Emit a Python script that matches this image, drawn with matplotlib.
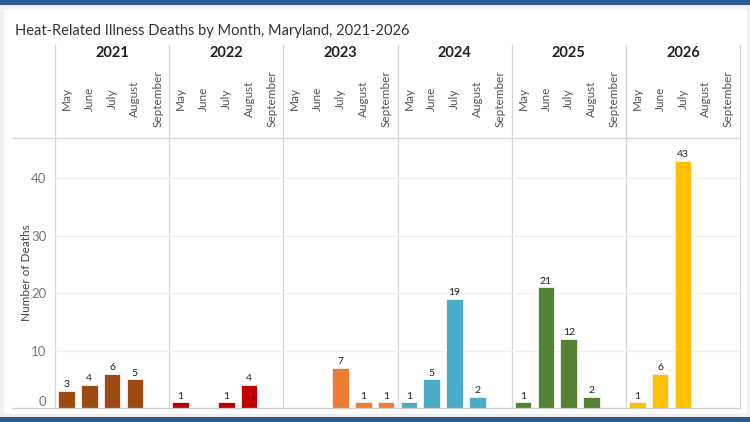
import matplotlib
matplotlib.use("Agg")
import matplotlib.pyplot as plt
from matplotlib.patches import Rectangle
from matplotlib.lines import Line2D

plt.rcParams['font.family'] = ['Lato', 'DejaVu Sans']

years = ['2021', '2022', '2023', '2024', '2025', '2026']
months = ['May', 'June', 'July', 'August', 'September']
colors = ['#9C4A10', '#C00000', '#ED7D31', '#4BACC6', '#548235', '#FFC000']

# deaths per month (None = no bar)
deaths_2021 = [3, 4, 6, 5, None]
deaths_2022 = [1, None, 1, 4, None]
deaths_2023 = [None, None, 7, 1, 1]
deaths_2024 = [1, 5, 19, 2, None]
deaths_2025 = [1, 21, 12, 2, None]
deaths_2026 = [1, 6, 43, None, None]
all_deaths = [deaths_2021, deaths_2022, deaths_2023, deaths_2024, deaths_2025, deaths_2026]

W, H = 750, 422
fig = plt.figure(figsize=(7.5, 4.22), dpi=100)
fig.patch.set_facecolor('#f0f0f0')


def fx(x):
    return x / W


def fy(y):
    return 1 - y / H


# card + blue bands (behind the axes)
fig.patches.append(Rectangle((fx(4), fy(414)), fx(747 - 4), (414 - 9) / H,
                             transform=fig.transFigure, facecolor='white', edgecolor='none', zorder=-5))
fig.patches.append(Rectangle((0, fy(4.5)), 1, 4.5 / H, transform=fig.transFigure,
                             facecolor='#2C5A94', edgecolor='none', zorder=-5))
fig.patches.append(Rectangle((0, 0), 1, (H - 417) / H, transform=fig.transFigure,
                             facecolor='#2C5A94', edgecolor='none', zorder=-5))

ax = fig.add_axes([fx(55), fy(408), fx(740 - 55), (408 - 138) / H])
ax.set_facecolor('none')

n = len(months)
for i, vals in enumerate(all_deaths):
    for j, v in enumerate(vals):
        if v is None:
            continue
        xpos = i * n + j
        ax.bar(xpos, v, width=0.73, color=colors[i], edgecolor='#f4f4f4', linewidth=0.6, zorder=3)
        ax.text(xpos, v + 0.3, str(v), ha='center', va='bottom', fontsize=7.5, color='#222222', zorder=4)

ax.set_xlim(-0.5, len(years) * n - 0.5)
ax.set_ylim(0, 47)
ax.set_xticks([])
ax.set_yticks([0, 10, 20, 30, 40])
ax.tick_params(axis='y', length=0, labelsize=9.5, labelcolor='#777777', pad=6)
ax.get_yticklabels()[0].set_va('bottom')
ax.yaxis.grid(True, color='#efefef', linewidth=0.8, zorder=0)
for s in ax.spines.values():
    s.set_visible(False)

# panel dividers, running up through the header
for k in range(len(years) + 1):
    ax.axvline(k * n - 0.5, ymin=0, ymax=(408 - 45) / 270, color='#d6d6d6',
               linewidth=0.9, clip_on=False, zorder=1)

# horizontal separators
fig.lines.append(Line2D([fx(12), fx(740)], [fy(138), fy(138)], transform=fig.transFigure,
                        color='#d6d6d6', linewidth=0.9))
fig.lines.append(Line2D([fx(12), fx(740)], [fy(408), fy(408)], transform=fig.transFigure,
                        color='#d0d0d0', linewidth=0.9))

# header: years and months
trans = ax.get_xaxis_transform()
for i, yr in enumerate(years):
    xc = i * n + (n - 1) / 2
    ax.text(xc, (408 - 53) / 270, yr, transform=trans, ha='center', va='center',
            fontsize=10.5, fontweight='bold', color='#222222', clip_on=False)
    for j, m in enumerate(months):
        ax.text(i * n + j, (408 - 99) / 270, m, transform=trans, ha='center', va='center',
                rotation=90, fontsize=8.5, color='#555555', clip_on=False)

fig.text(fx(15), fy(31), 'Heat-Related Illness Deaths by Month, Maryland, 2021-2026',
         ha='left', va='center', fontsize=10.5, color='#333333')
fig.text(fx(27), fy(273), 'Number of Deaths', rotation=90, ha='center', va='center',
         fontsize=8.5, color='#444444')

fig.savefig('out.png', dpi=100, facecolor=fig.get_facecolor())
